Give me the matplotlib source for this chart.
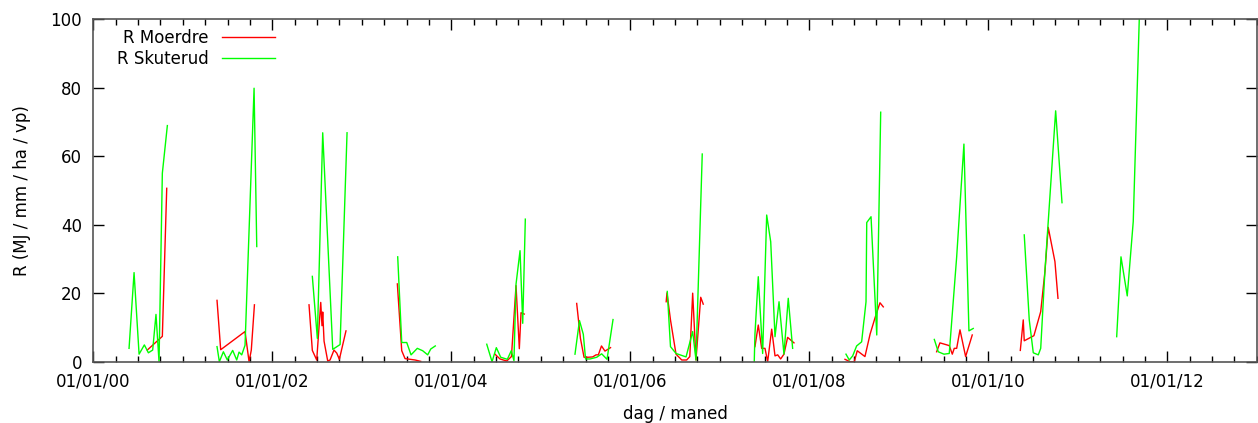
import matplotlib
matplotlib.use("Agg")
import matplotlib.pyplot as plt
import numpy as np
from matplotlib.ticker import FixedLocator, MultipleLocator, FuncFormatter

nan = np.nan

# time as decimal years, nan splits the seasons
moerdre_t = [2000.603, 2000.771, 2000.82, nan,
             2001.382, 2001.423, 2001.695, 2001.74, 2001.765, 2001.80, nan,
             2002.41, 2002.447, 2002.496, 2002.541, 2002.555, 2002.563, 2002.578, 2002.619,
             2002.645, 2002.689, 2002.72, 2002.749, 2002.823, nan,
             2003.397, 2003.446, 2003.483, 2003.539, 2003.595, 2003.658, nan,
             2004.488, 2004.544, 2004.619, 2004.672, 2004.723, 2004.76, 2004.779, 2004.815, nan,
             2005.401, 2005.443, 2005.483, 2005.531, 2005.58, 2005.617, 2005.643, 2005.678,
             2005.717, 2005.779, nan,
             2006.401, 2006.41, 2006.449, 2006.511, 2006.575, 2006.63, 2006.665, 2006.697,
             2006.734, 2006.787, 2006.815, nan,
             2007.393, 2007.43, 2007.468, 2007.505, 2007.535, 2007.58, 2007.617, 2007.647,
             2007.68, 2007.717, 2007.758, 2007.829, nan,
             2008.399, 2008.455, 2008.503, 2008.536, 2008.622, 2008.68, 2008.737, 2008.79, 2008.827, nan,
             2009.423, 2009.46, 2009.564, 2009.598, 2009.62, 2009.647, 2009.684, 2009.747, 2009.821, nan,
             2010.358, 2010.391, 2010.402, 2010.51, 2010.586, 2010.634, 2010.67, 2010.745, 2010.779]
moerdre_r = [3.4, 7.4, 50.6, nan,
             17.9, 3.5, 8.8, 0.0, 3.4, 16.6, nan,
             16.6, 3.3, 0.5, 17.3, 10.5, 14.5, 6.0, 0.2,
             0.5, 3.4, 2.5, 0.7, 9.0, nan,
             22.7, 3.2, 0.9, 0.7, 0.5, 0.1, nan,
             2.2, 0.8, 0.2, 1.5, 22.2, 3.8, 14.3, 13.9, nan,
             17.0, 6.8, 1.3, 1.3, 1.4, 2.0, 2.0, 4.6,
             3.1, 4.1, nan,
             17.5, 20.1, 12.2, 2.2, 0.5, 0.5, 1.5, 20.0,
             0.5, 18.8, 16.8, nan,
             4.4, 10.7, 3.9, 3.9, 0.0, 9.5, 1.7, 2.0,
             0.8, 2.2, 7.1, 5.5, nan,
             0.7, 0.0, 0.0, 3.2, 1.5, 8.1, 13.0, 17.2, 16.0, nan,
             2.9, 5.5, 4.7, 2.2, 3.9, 3.9, 9.3, 1.5, 7.8, nan,
             3.3, 12.2, 6.1, 7.6, 14.6, 26.5, 39.2, 29.2, 18.5]

skuterud_t = [2000.399, 2000.455, 2000.511, 2000.57, 2000.615, 2000.663, 2000.70, 2000.734,
              2000.771, 2000.827, nan,
              2001.382, 2001.408, 2001.453, 2001.497, 2001.557, 2001.602, 2001.628, 2001.658,
              2001.695, 2001.796, 2001.826, nan,
              2002.447, 2002.503, 2002.563, 2002.675, 2002.757, 2002.835, nan,
              2003.401, 2003.446, 2003.502, 2003.55, 2003.62, 2003.68, 2003.736, 2003.77, 2003.821, nan,
              2004.396, 2004.455, 2004.503, 2004.552, 2004.626, 2004.67, 2004.70, 2004.723,
              2004.768, 2004.798, 2004.827, nan,
              2005.382, 2005.432, 2005.475, 2005.50, 2005.55, 2005.625, 2005.68, 2005.74, 2005.807, nan,
              2006.413, 2006.449, 2006.511, 2006.623, 2006.697, 2006.734, 2006.804, nan,
              2007.385, 2007.393, 2007.43, 2007.479, 2007.524, 2007.569, 2007.617, 2007.662,
              2007.717, 2007.765, 2007.814, nan,
              2008.41, 2008.447, 2008.485, 2008.529, 2008.585, 2008.634, 2008.642, 2008.69,
              2008.754, 2008.798, nan,
              2009.397, 2009.441, 2009.505, 2009.564, 2009.647, 2009.728, 2009.784, 2009.832, nan,
              2010.402, 2010.458, 2010.503, 2010.559, 2010.586, 2010.634, 2010.753, 2010.824, nan,
              2011.435, 2011.483, 2011.553, 2011.62, 2011.688]
skuterud_r = [3.9, 26.0, 2.2, 4.9, 2.6, 3.4, 13.8, 0.0,
              55.0, 68.9, nan,
              4.4, 0.0, 2.9, 0.5, 3.3, 0.5, 2.8, 2.0,
              4.8, 79.8, 33.6, nan,
              24.9, 6.8, 66.8, 3.6, 5.0, 66.8, nan,
              30.6, 5.6, 5.6, 2.0, 3.9, 3.2, 2.0, 3.7, 4.6, nan,
              5.1, 0.0, 4.1, 1.3, 0.7, 3.2, 0.3, 22.6,
              32.4, 11.2, 41.6, nan,
              2.2, 12.0, 8.0, 0.8, 0.8, 1.3, 2.3, 0.7, 12.3, nan,
              20.5, 4.4, 2.4, 1.4, 8.8, 0.5, 60.6, nan,
              0.0, 8.1, 24.8, 2.4, 42.8, 35.0, 7.3, 17.5,
              2.2, 18.5, 3.9, nan,
              2.2, 0.5, 1.7, 4.6, 5.8, 17.5, 40.6, 42.3,
              7.8, 72.8, nan,
              6.5, 2.9, 2.2, 2.4, 30.6, 63.5, 9.0, 9.7, nan,
              37.0, 12.2, 2.6, 2.0, 3.9, 26.8, 73.2, 46.4, nan,
              7.3, 30.6, 19.2, 40.9, 100.5]

xtick_years = [2000, 2002, 2004, 2006, 2008, 2010, 2012]

fig = plt.figure(figsize=(12.58, 4.23), dpi=100)
ax = fig.add_axes([0.0742, 0.1449, 0.9248, 0.8102])

ax.plot(moerdre_t, moerdre_r, color='#ff0000', lw=1.0, label='R Moerdre')
ax.plot(skuterud_t, skuterud_r, color='#00ff00', lw=1.0, label='R Skuterud')

ax.set_xlim(2000, 2013)
ax.set_ylim(0, 100)
ax.xaxis.set_major_locator(FixedLocator(xtick_years))
ax.xaxis.set_major_formatter(FuncFormatter(lambda v, p: '01/01/%02d' % (int(round(v)) % 100)))
ax.xaxis.set_minor_locator(MultipleLocator(0.25))
ax.yaxis.set_major_locator(MultipleLocator(20))

for s in ax.spines.values():
    s.set_color('#555555')
    s.set_linewidth(1.2)
ax.tick_params(which='both', direction='in', top=True, right=True, labelsize=12,
               colors='black', pad=8)
ax.tick_params(which='major', length=8, width=1)
ax.tick_params(which='minor', length=4, width=1)

ax.set_xlabel('dag / maned', fontsize=12, labelpad=10)
ax.set_ylabel('R (MJ / mm / ha / vp)', fontsize=12, labelpad=14)

ax.legend(loc='upper left', frameon=False, fontsize=12, markerfirst=False,
          handlelength=3.2, handletextpad=0.8, labelspacing=0.2,
          bbox_to_anchor=(0.0075, 1.015))

fig.savefig('out.png', dpi=100)
